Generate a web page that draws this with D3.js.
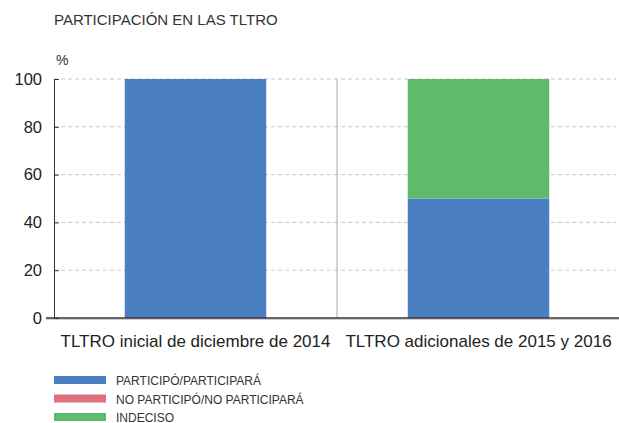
<!DOCTYPE html>
<html>
<head>
<meta charset="utf-8">
<script src="https://cdn.jsdelivr.net/npm/d3@7"></script>
<style>
body { margin: 0; background: #fff; }
svg { font-family: "Liberation Sans", Arial, sans-serif; }
</style>
</head>
<body>
<div id="chart"></div>
<script>
var categories = ["TLTRO inicial de diciembre de 2014", "TLTRO adicionales de 2015 y 2016"];
var seriesNames = ["PARTICIPÓ/PARTICIPARÁ", "NO PARTICIPÓ/NO PARTICIPARÁ", "INDECISO"];
var participo = [100, 50];
var noParticipo = [0, 0];
var indeciso = [0, 50];
var yTicks = [0, 20, 40, 60, 80, 100];
var colors = ["#4a7fc1", "#de7080", "#5ebb6e"];

var width = 619, height = 423;
var plotLeft = 54, plotRight = 620, plotTop = 79, plotBottom = 318;

var svg = d3.select("#chart").append("svg")
    .attr("width", width)
    .attr("height", height);

var rows = categories.map(function(c, i){
    return {cat: c, s0: participo[i], s1: noParticipo[i], s2: indeciso[i]};
});
var stack = d3.stack().keys(["s0", "s1", "s2"])(rows);

var xScale = d3.scaleBand().domain(categories).range([plotLeft, plotRight]);
var yScale = d3.scaleLinear().domain([0, 100]).range([plotBottom, plotTop]);

// title
svg.append("text")
    .attr("x", 54).attr("y", 25)
    .attr("font-size", 15)
    .attr("fill", "#333")
    .text("PARTICIPACIÓN EN LAS TLTRO");

svg.append("text")
    .attr("x", 56).attr("y", 65)
    .attr("font-size", 14)
    .attr("fill", "#333")
    .text("%");

// gridlines
svg.append("g").selectAll("line")
    .data(yTicks.filter(function(d){ return d > 0; }))
    .enter().append("line")
    .attr("x1", plotLeft).attr("x2", 616)
    .attr("y1", function(d){ return yScale(d); })
    .attr("y2", function(d){ return yScale(d); })
    .attr("stroke", "#c8c8c8")
    .attr("stroke-dasharray", "4,3");

// divider between categories
svg.append("line")
    .attr("x1", xScale(categories[1])).attr("x2", xScale(categories[1]))
    .attr("y1", plotTop).attr("y2", plotBottom)
    .attr("stroke", "#aaa");

// bars
var barW = xScale.bandwidth() / 2;
svg.append("g").selectAll("g")
    .data(stack).enter().append("g")
    .attr("fill", function(d, i){ return colors[i]; })
    .selectAll("rect")
    .data(function(d){ return d; })
    .enter().append("rect")
    .attr("x", function(d){ return xScale(d.data.cat) + xScale.bandwidth() / 4; })
    .attr("y", function(d){ return yScale(d[1]); })
    .attr("width", barW)
    .attr("height", function(d){ return yScale(d[0]) - yScale(d[1]); });

// y axis
var yAxis = d3.axisLeft(yScale).tickValues(yTicks).tickSize(-5).tickPadding(12);
var gy = svg.append("g")
    .attr("transform", "translate(" + plotLeft + ",0)")
    .call(yAxis);
gy.select(".domain").attr("stroke", "#333");
gy.selectAll(".tick line").attr("stroke", "#333");
gy.selectAll("text").attr("font-size", 16.5).attr("fill", "#222")
    .attr("font-family", "Liberation Sans, Arial, sans-serif");

// baseline
svg.append("line")
    .attr("x1", 46).attr("x2", 619)
    .attr("y1", plotBottom + 1.5).attr("y2", plotBottom + 1.5)
    .attr("stroke", "#ccc");
svg.append("line")
    .attr("x1", 46).attr("x2", 619)
    .attr("y1", plotBottom).attr("y2", plotBottom)
    .attr("stroke", "#333").attr("stroke-width", 1.5);

// x labels
svg.append("g").selectAll("text")
    .data(categories).enter().append("text")
    .attr("x", function(d){ return xScale(d) + xScale.bandwidth() / 2; })
    .attr("y", 347)
    .attr("text-anchor", "middle")
    .attr("font-size", 17)
    .attr("fill", "#222")
    .text(function(d){ return d; });

// legend
var legend = svg.append("g").selectAll("g")
    .data(seriesNames).enter().append("g")
    .attr("transform", function(d, i){ return "translate(54," + (376 + i * 18.5) + ")"; });
legend.append("rect")
    .attr("width", 52).attr("height", 8)
    .attr("fill", function(d, i){ return colors[i]; });
legend.append("text")
    .attr("x", 62).attr("y", 9)
    .attr("font-size", 12)
    .attr("fill", "#333")
    .text(function(d){ return d; });
</script>
</body>
</html>
